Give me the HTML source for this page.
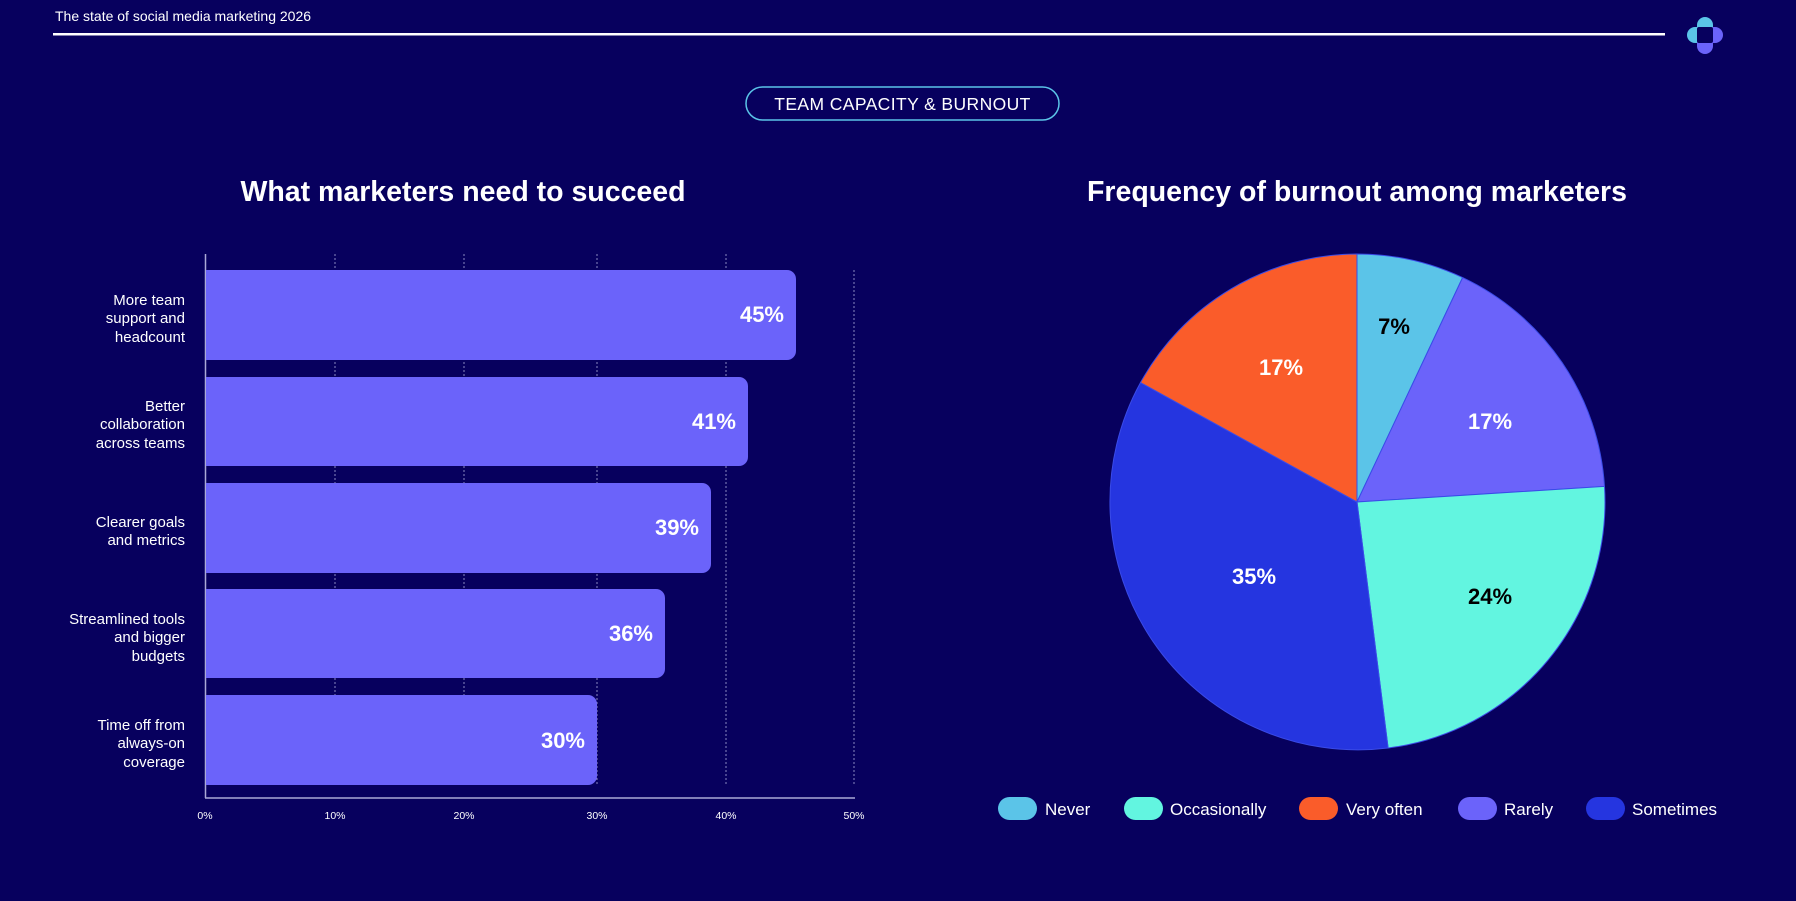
<!DOCTYPE html>
<html><head><meta charset="utf-8"><style>
html,body{margin:0;padding:0;background:#07005e;}
svg{display:block;font-family:"Liberation Sans",sans-serif;}
</style></head><body>
<svg width="1796" height="901" viewBox="0 0 1796 901" xmlns="http://www.w3.org/2000/svg">
<rect width="1796" height="901" fill="#07005e"/>
<text x="55" y="21" fill="#fff" font-size="14">The state of social media marketing 2026</text>
<rect x="53" y="33" width="1612" height="2.5" fill="#fff"/>
<g>
<rect x="1697" y="17" width="16" height="20" rx="8" fill="#5bc4e8"/>
<rect x="1687" y="27" width="18" height="16" rx="8" fill="#5bc4e8"/>
<rect x="1705" y="27" width="18" height="16" rx="8" fill="#6b63fa"/>
<rect x="1697" y="34" width="16" height="20" rx="8" fill="#6b63fa"/>
<rect x="1697" y="27" width="16" height="16" rx="2" fill="#07005e"/>
</g>
<rect x="746" y="87" width="313" height="33" rx="16.5" fill="none" stroke="#5bc4e8" stroke-width="1.5"/>
<text x="902.5" y="110" fill="#fff" font-size="17.5" text-anchor="middle" letter-spacing="0.4">TEAM CAPACITY &amp; BURNOUT</text>
<text x="463" y="201" fill="#fff" font-size="28.5" font-weight="bold" text-anchor="middle">What marketers need to succeed</text>
<text x="1357" y="201" fill="#fff" font-size="28.5" font-weight="bold" text-anchor="middle">Frequency of burnout among marketers</text>
<g stroke="#8a88c0" stroke-width="1" stroke-dasharray="2,2">
<line x1="335" y1="254" x2="335" y2="785"/>
<line x1="464" y1="254" x2="464" y2="785"/>
<line x1="597" y1="254" x2="597" y2="785"/>
<line x1="726" y1="254" x2="726" y2="785"/>
<line x1="854" y1="270" x2="854" y2="785"/>
</g>
<line x1="205.5" y1="254" x2="205.5" y2="798" stroke="#aaa9d6" stroke-width="1.5"/>
<line x1="205" y1="798" x2="855" y2="798" stroke="#aaa9d6" stroke-width="1.5"/>
<g fill="#6b63fa">
<path d="M206 270H787a9 9 0 0 1 9 9V351a9 9 0 0 1-9 9H206Z"/>
<path d="M206 377H739a9 9 0 0 1 9 9V457a9 9 0 0 1-9 9H206Z"/>
<path d="M206 483H702a9 9 0 0 1 9 9V564a9 9 0 0 1-9 9H206Z"/>
<path d="M206 589H656a9 9 0 0 1 9 9V669a9 9 0 0 1-9 9H206Z"/>
<path d="M206 695H588a9 9 0 0 1 9 9V776a9 9 0 0 1-9 9H206Z"/>
</g>
<g fill="#fff" font-size="22" font-weight="bold" text-anchor="end">
<text x="784" y="322">45%</text>
<text x="736" y="429">41%</text>
<text x="699" y="535">39%</text>
<text x="653" y="641">36%</text>
<text x="585" y="748">30%</text>
</g>
<g fill="#fff" font-size="15" text-anchor="end">
<text x="185" y="305">More team</text><text x="185" y="323">support and</text><text x="185" y="342">headcount</text>
<text x="185" y="411">Better</text><text x="185" y="429">collaboration</text><text x="185" y="448">across teams</text>
<text x="185" y="527">Clearer goals</text><text x="185" y="545">and metrics</text>
<text x="185" y="624">Streamlined tools</text><text x="185" y="642">and bigger</text><text x="185" y="661">budgets</text>
<text x="185" y="730">Time off from</text><text x="185" y="748">always-on</text><text x="185" y="767">coverage</text>
</g>
<g fill="#fff" font-size="10.5" text-anchor="middle">
<text x="205" y="819">0%</text><text x="335" y="819">10%</text><text x="464" y="819">20%</text>
<text x="597" y="819">30%</text><text x="726" y="819">40%</text><text x="854" y="819">50%</text>
</g>
<g stroke="#3a4be8" stroke-width="1">
<path d="M1357 502L1357 254A248 248 0 0 1 1462.6 277.6Z" fill="#5bc4e8"/>
<path d="M1357 502L1462.6 277.6A248 248 0 0 1 1604.5 486.4Z" fill="#6b63fa"/>
<path d="M1357 502L1604.5 486.4A248 248 0 0 1 1388.1 748.0Z" fill="#62f5e0"/>
<path d="M1357 502L1388.1 748.0A248 248 0 0 1 1140.5 382.6Z" fill="#2535e0"/>
<path d="M1357 502L1140.5 382.6A248 248 0 0 1 1357 254Z" fill="#fa5c2a"/>
</g>
<g font-size="22" font-weight="bold" text-anchor="middle">
<text x="1394" y="334" fill="#000">7%</text>
<text x="1490" y="429" fill="#fff">17%</text>
<text x="1490" y="604" fill="#000">24%</text>
<text x="1254" y="584" fill="#fff">35%</text>
<text x="1281" y="375" fill="#fff">17%</text>
</g>
<g font-size="17" fill="#fff">
<rect x="998" y="797" width="39" height="23" rx="11.5" fill="#5bc4e8"/><text x="1045" y="815">Never</text>
<rect x="1124" y="797" width="39" height="23" rx="11.5" fill="#62f5e0"/><text x="1170" y="815">Occasionally</text>
<rect x="1299" y="797" width="39" height="23" rx="11.5" fill="#fa5c2a"/><text x="1346" y="815">Very often</text>
<rect x="1458" y="797" width="39" height="23" rx="11.5" fill="#6b63fa"/><text x="1504" y="815">Rarely</text>
<rect x="1586" y="797" width="39" height="23" rx="11.5" fill="#2535e0"/><text x="1632" y="815">Sometimes</text>
</g>
</svg>
</body></html>
